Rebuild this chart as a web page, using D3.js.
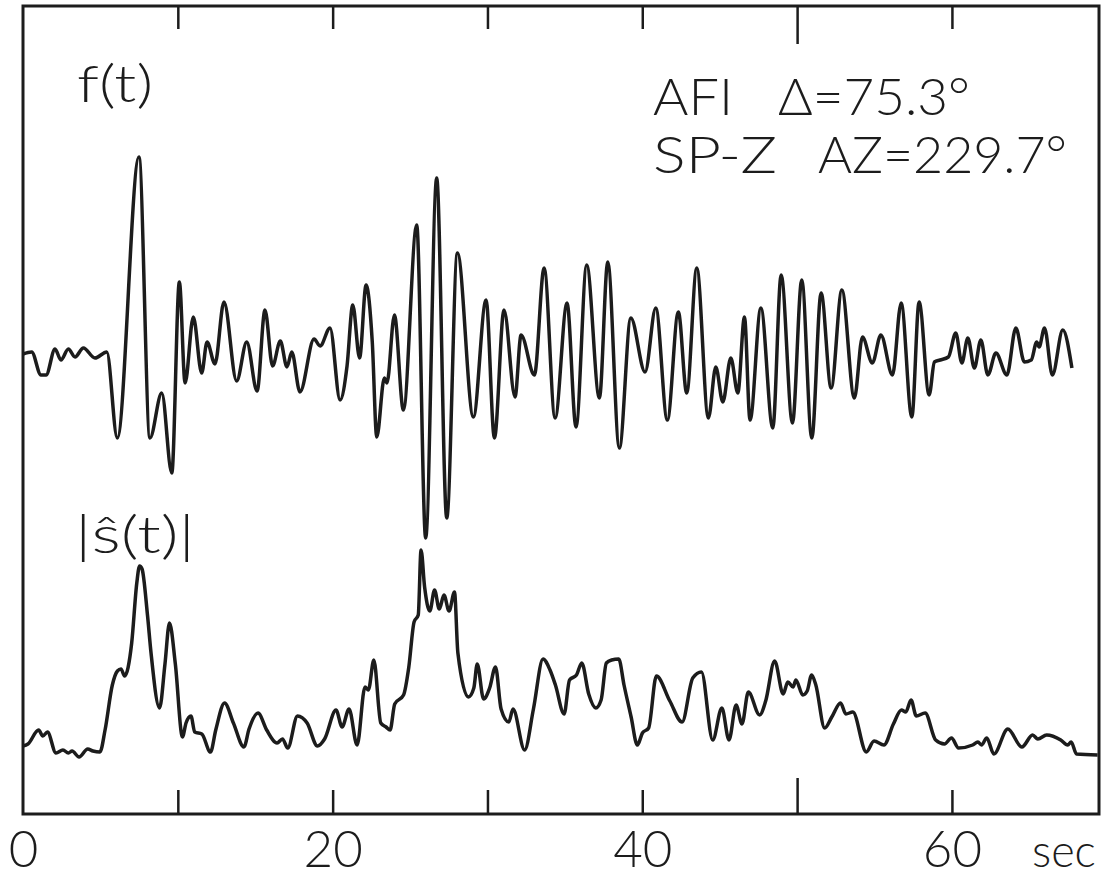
<!DOCTYPE html>
<html>
<head>
<meta charset="utf-8">
<script src="https://cdn.jsdelivr.net/npm/d3@7"></script>
<style>
  html, body { margin: 0; padding: 0; background: #fff; }
  svg { display: block; }
  text { font-family: Lato, "DejaVu Sans", sans-serif; font-weight: 300; fill: #1c1c1c; }
</style>
</head>
<body>
<div id="chart"></div>
<script>
// f(t) : seismogram, time (s) and amplitude (arbitrary counts, read at extrema)
const fTime = [0, 0.56, 1.16, 1.49, 2.07, 2.45, 2.93, 3.36, 3.90, 4.65,
  5.41, 6.09, 7.49, 8.20, 8.96, 9.61, 10.10, 10.47, 11.00, 11.54,
  11.89, 12.40, 12.98, 13.80, 14.45, 15.12, 15.63, 16.12, 16.62, 17.05,
  17.36, 17.89, 18.80, 19.19, 19.83, 20.48, 20.93, 21.30, 21.74, 22.16,
  22.56, 22.85, 23.34, 23.51, 23.99, 24.57, 25.43, 26.01, 26.72, 27.37,
  28.06, 29.09, 29.91, 30.45, 31.07, 31.78, 32.17, 33.03, 33.66, 34.37,
  35.14, 35.72, 36.41, 37.23, 37.77, 38.52, 39.26, 40.18, 40.87, 41.62,
  42.33, 42.87, 43.52, 44.27, 44.75, 45.20, 45.72, 46.17, 46.60, 46.96,
  47.66, 48.43, 48.97, 49.70, 50.30, 50.95, 51.55, 52.20, 52.89, 53.70,
  54.22, 54.86, 55.41, 56.16, 56.72, 57.41, 57.88, 58.53, 58.87, 59.24,
  59.77, 60.25, 60.64, 61.03, 61.45, 61.87, 62.32, 62.84, 63.55, 64.13,
  64.68, 65.12, 65.48, 65.63, 65.98, 66.49, 67.16, 67.75];
const fAmp = [1, 3, -20, -20, 6, -5, 6, -2, 7, -3,
  3, -83, 198, -83, -38, -118, 73, -28, 38, -18,
  13, -9, 53, -26, 13, -36, 45, -11, 14, -12,
  3, -37, 16, 9, 27, -45, -11, 50, -3, 70,
  13, -82, -23, -28, 40, -55, 130, -183, 177, -163,
  102, -62, 55, -83, 45, -42, 20, -20, 87, -63,
  52, -72, 90, -43, 93, -93, 37, -17, 47, -65,
  43, -38, 87, -63, -12, -47, -3, -38, 38, -65,
  47, -73, 80, -68, 75, -83, 62, -33, 65, -43,
  18, -8, 20, -20, 52, -62, 53, -40, -7, -5,
  -2, 22, -8, 17, -13, 15, -20, 2, -20, 27,
  -7, -5, 13, 8, 27, -20, 25, -13];

// |ŝ(t)| : envelope trace
const sTime = [0, 0.32, 1.01, 1.28, 1.58, 2.13, 2.58, 2.93, 3.17, 3.62,
  4.18, 4.52, 4.97, 5.30, 5.77, 6.10, 6.33, 6.56, 7.02, 7.35,
  7.53, 7.69, 8.04, 8.27, 8.82, 9.17, 9.46, 9.84, 10.30, 10.53,
  10.85, 11.09, 11.55, 12.11, 12.45, 13.02, 13.59, 14.27, 14.60, 15.18,
  15.74, 16.41, 16.76, 17.10, 17.73, 18.35, 19.02, 19.48, 20.22, 20.61,
  21.06, 21.58, 22.09, 22.31, 22.66, 23.11, 23.45, 23.71, 24.01, 24.58,
  24.92, 25.26, 25.53, 25.71, 25.94, 26.28, 26.58, 26.89, 27.19, 27.52,
  27.87, 28.09, 28.77, 29.12, 29.34, 29.75, 30.14, 30.52, 30.88, 31.38,
  31.65, 32.40, 32.97, 33.59, 34.04, 34.39, 34.95, 35.30, 35.75, 36.09,
  36.54, 37.00, 37.34, 37.68, 38.02, 38.48, 38.82, 39.28, 39.68, 40.01,
  40.41, 40.91, 41.78, 42.57, 43.26, 43.82, 44.55, 45.14, 45.60, 46.06,
  46.44, 46.85, 47.58, 47.97, 48.55, 49.10, 49.40, 49.74, 49.92, 50.37,
  50.65, 50.94, 51.21, 51.78, 52.24, 52.81, 53.15, 53.60, 54.47, 54.97,
  55.61, 56.22, 56.74, 57.02, 57.36, 57.70, 58.27, 58.95, 59.52, 59.97,
  60.43, 61.34, 61.68, 61.91, 62.25, 62.71, 63.61, 64.52, 65.21, 65.55,
  66.12, 67.03, 67.48, 67.70, 68.05, 69.41];
const sAmp = [14, 16, 30, 24, 28, 7, 10, 7, 9, 3,
  11, 9, 8, 30, 75, 89, 91, 84, 117, 177,
  194, 191, 145, 107, 52, 96, 137, 96, 23, 37,
  44, 28, 26, 8, 30, 57, 37, 13, 31, 47,
  30, 17, 21, 12, 44, 37, 14, 21, 50, 33,
  51, 15, 73, 70, 100, 37, 33, 30, 56, 65,
  93, 138, 145, 210, 173, 149, 170, 151, 165, 149,
  168, 107, 63, 72, 96, 61, 72, 93, 51, 38,
  51, 10, 51, 101, 90, 75, 46, 80, 85, 97,
  66, 52, 60, 97, 100, 101, 75, 43, 15, 27,
  32, 84, 59, 38, 82, 88, 20, 52, 20, 55,
  36, 68, 45, 59, 99, 66, 78, 73, 80, 65,
  69, 85, 75, 32, 43, 57, 46, 48, 8, 19,
  15, 36, 50, 48, 60, 44, 47, 20, 16, 22,
  12, 15, 18, 15, 22, 6, 31, 13, 25, 21,
  25, 20, 15, 18, 6, 5];

const tickValues = [10, 20, 30, 40, 50, 60];
const tickLabels = [0, 20, 40, 60];
const timeUnit = "sec";
const stationText = [["AFI", "\u0394=75.3\u00b0"], ["SP-Z", "AZ=229.7\u00b0"]];
const traceNames = ["f(t)", "|\u015d(t)|"];

const width = 1102,
  height = 878;
const frame = { left: 23, right: 1099, top: 6, bottom: 814 };
const ink = "#1c1c1c";

const svg = d3
  .select("#chart")
  .append("svg")
  .attr("width", width)
  .attr("height", height);

const x = d3.scaleLinear().domain([0, 69.5]).range([frame.left, frame.right]);
const yF = d3.scaleLinear().domain([-200, 200]).range([555, 155]);
const yS = d3.scaleLinear().domain([0, 210]).range([760, 550]);

// frame
svg
  .append("rect")
  .attr("x", frame.left)
  .attr("y", frame.top)
  .attr("width", frame.right - frame.left)
  .attr("height", frame.bottom - frame.top)
  .attr("fill", "none")
  .attr("stroke", ink)
  .attr("stroke-width", 3);

// inward ticks, bottom and top (the 50 s tick is drawn longer)
const bottomAxis = svg
  .append("g")
  .attr("transform", "translate(0," + frame.bottom + ")")
  .call(d3.axisBottom(x).tickValues(tickValues).tickSize(-24).tickFormat(""));
bottomAxis.selectAll(".tick line").attr("y2", (d) => (d === 50 ? -36 : -24));

const topAxis = svg
  .append("g")
  .attr("transform", "translate(0," + frame.top + ")")
  .call(d3.axisTop(x).tickValues(tickValues).tickSize(-23).tickFormat(""));
topAxis.selectAll(".tick line").attr("y2", (d) => (d === 50 ? 38 : 23));

svg.selectAll(".domain").remove();
svg.selectAll(".tick line").attr("stroke", ink).attr("stroke-width", 2.5);

// tick labels
const labelAxis = svg
  .append("g")
  .attr("transform", "translate(0," + frame.bottom + ")")
  .call(d3.axisBottom(x).tickValues(tickLabels).tickSize(0).tickFormat(d3.format("d")));
labelAxis.select(".domain").remove();
labelAxis
  .selectAll("text")
  .attr("y", 53)
  .attr("dy", 0)
  .attr("fill", ink)
  .style("font-family", 'Lato, "DejaVu Sans", sans-serif')
  .style("font-weight", 300)
  .style("font-size", "51px");

svg
  .append("text")
  .attr("x", 1032)
  .attr("y", 867)
  .style("font-size", "45px")
  .text(timeUnit);

// traces
const fLine = d3
  .line()
  .x((i) => x(fTime[i]))
  .y((i) => yF(fAmp[i]))
  .curve(d3.curveMonotoneX);

const sLine = d3
  .line()
  .x((i) => x(sTime[i]))
  .y((i) => yS(sAmp[i]))
  .curve(d3.curveMonotoneX);

svg
  .append("path")
  .attr("d", fLine(d3.range(fTime.length)))
  .attr("fill", "none")
  .attr("stroke", ink)
  .attr("stroke-width", 3.5)
  .attr("stroke-linejoin", "round");

svg
  .append("path")
  .attr("d", sLine(d3.range(sTime.length)))
  .attr("fill", "none")
  .attr("stroke", ink)
  .attr("stroke-width", 3.5)
  .attr("stroke-linejoin", "round");

// trace names
svg
  .append("text")
  .attr("x", 77)
  .attr("y", 102)
  .attr("textLength", 76)
  .attr("lengthAdjust", "spacingAndGlyphs")
  .style("font-size", "52px")
  .text(traceNames[0]);

svg
  .append("text")
  .attr("x", 75)
  .attr("y", 553)
  .attr("textLength", 120)
  .attr("lengthAdjust", "spacingAndGlyphs")
  .style("font-size", "52px")
  .text(traceNames[1]);

// station / component block
const stationPos = [
  { y: 115, parts: [{ x: 653, w: 80 }, { x: 778, w: 192 }] },
  { y: 173, parts: [{ x: 653, w: 124 }, { x: 818, w: 249 }] }
];
stationText.forEach((line, r) => {
  line.forEach((part, k) => {
    const p = stationPos[r].parts[k];
    svg
      .append("text")
      .attr("x", p.x)
      .attr("y", stationPos[r].y)
      .attr("textLength", p.w)
      .attr("lengthAdjust", "spacingAndGlyphs")
      .style("font-size", "52px")
      .text(part);
  });
});
</script>
</body>
</html>
